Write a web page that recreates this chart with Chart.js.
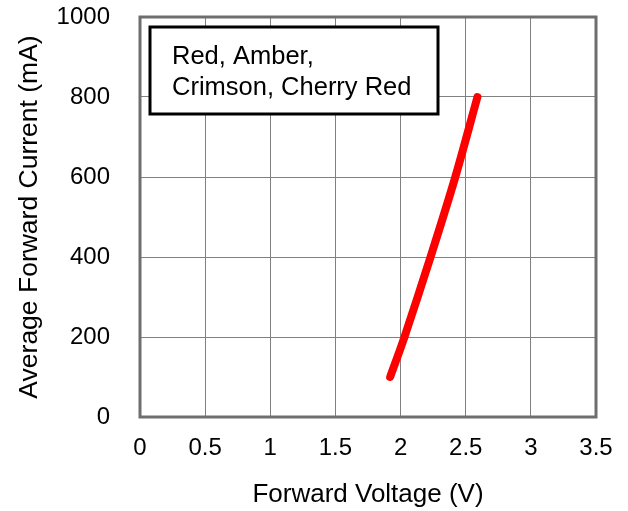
<!DOCTYPE html>
<html>
<head>
<meta charset="utf-8">
<script src="https://cdn.jsdelivr.net/npm/chart.js@4"></script>
<style>
  html, body { margin: 0; padding: 0; background: #fff; }
  #wrap { width: 628px; height: 511px; }
</style>
</head>
<body>
<div id="wrap"><canvas id="myChart"></canvas></div>
<script>
// data
const voltage = [1.92, 2.03, 2.23, 2.42, 2.59];
const current = [100, 200, 400, 600, 800];
const legendLines = ['Red, Amber,', 'Crimson, Cherry Red'];
const xTicks = [0, 0.5, 1, 1.5, 2, 2.5, 3, 3.5];
const yTicks = [0, 200, 400, 600, 800, 1000];

const fontFamily = 'Arial, "Liberation Sans", sans-serif';

const points = voltage.map((v, i) => ({ x: v, y: current[i] }));

// frame round the plot and the text box in the corner
const framePlugin = {
  id: 'frame',
  afterDraw(chart) {
    const c = chart.ctx;
    const a = chart.chartArea;
    c.save();
    c.strokeStyle = '#6e6e6e';
    c.lineWidth = 3;
    c.strokeRect(a.left, a.top, a.right - a.left, a.bottom - a.top);

    c.fillStyle = '#fff';
    c.fillRect(150, 27, 288, 87);
    c.strokeStyle = '#000';
    c.lineWidth = 3;
    c.strokeRect(150, 27, 288, 87);
    c.fillStyle = '#000';
    c.font = '25.5px ' + fontFamily;
    c.textBaseline = 'middle';
    c.textAlign = 'left';
    legendLines.forEach((t, i) => c.fillText(t, 172, 57 + i * 31));
    c.restore();
  }
};

const chart = new Chart(document.getElementById('myChart'), {
  type: 'scatter',
  data: {
    datasets: [
      {
        label: 'Red, Amber, Crimson, Cherry Red',
        data: points,
        showLine: true,
        borderColor: '#ff0000',
        backgroundColor: '#ff0000',
        borderWidth: 8,
        borderCapStyle: 'round',
        borderJoinStyle: 'round',
        tension: 0.3,
        pointRadius: 0,
      },
    ],
  },
  options: {
    responsive: true,
    maintainAspectRatio: false,
    animation: false,
    layout: { padding: { top: 17, right: 32, left: 0, bottom: 0 } },
    plugins: {
      legend: { display: false },
      tooltip: { enabled: false }
    },
    scales: {
      x: {
        type: 'linear',
        min: 0,
        max: 3.5,
        afterBuildTicks: (s) => { s.ticks = xTicks.map(v => ({ value: v })); },
        afterFit: (s) => { s.height = 94; s.paddingLeft = 0; s.paddingRight = 0; },
        grid: { color: '#808080', lineWidth: 1, drawTicks: false },
        border: { display: false },
        ticks: {
          color: '#000',
          padding: 17,
          maxRotation: 0,
          font: { family: fontFamily, size: 24 },
          callback: (v) => String(v)
        },
        title: {
          display: true,
          text: 'Forward Voltage (V)',
          color: '#000',
          font: { family: fontFamily, size: 26 },
          padding: { top: 0, bottom: 1 }
        }
      },
      y: {
        min: 0,
        max: 1000,
        afterBuildTicks: (s) => { s.ticks = yTicks.map(v => ({ value: v })); },
        afterFit: (s) => { s.width = 140; s.paddingTop = 0; s.paddingBottom = 0; },
        grid: { color: '#808080', lineWidth: 1, drawTicks: false },
        border: { display: false },
        ticks: {
          color: '#000',
          padding: 30,
          font: { family: fontFamily, size: 24 },
          callback: (v) => String(v)
        },
        title: {
          display: true,
          text: 'Average Forward Current (mA)',
          color: '#000',
          font: { family: fontFamily, size: 26.5 },
          padding: { top: 14, bottom: 0 }
        }
      }
    }
  },
  plugins: [framePlugin]
});
</script>
</body>
</html>
